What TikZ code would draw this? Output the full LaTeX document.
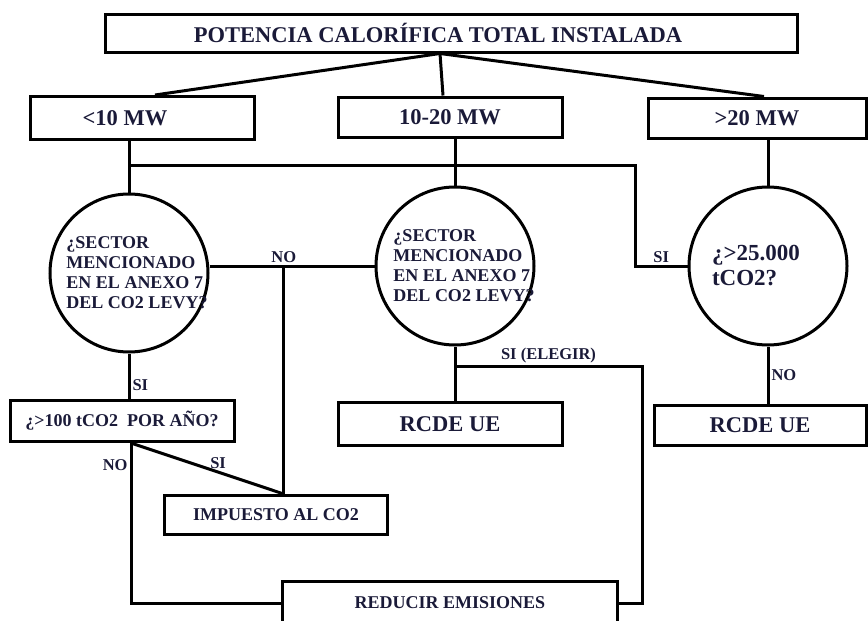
\documentclass[tikz,border=0pt]{standalone}
\usepackage{fontspec}
\setmainfont{Liberation Serif}
\usepackage{tikz}
\definecolor{tinta}{HTML}{1A1A38}
\newcommand{\tam}[2]{\fontsize{#1}{#2}\selectfont}

\begin{document}
\begin{tikzpicture}[x=1pt, y=-1pt, line width=3pt,
  caja/.style={draw, rectangle, inner sep=0pt, text=tinta, font=\bfseries\tam{18}{20}},
  grande/.style={caja, font=\bfseries\tam{22.5}{24}},
  rombo/.style={draw, circle, minimum size=158pt, inner sep=0pt},
  preg/.style={align=left, inner sep=0pt, text=tinta, font=\bfseries\tam{18}{20}},
  et/.style={text=tinta, inner sep=2pt, font=\bfseries\tam{16.5}{18}}]
  \useasboundingbox (0,0) rectangle (868,621);
  \node[grande, minimum width=692pt, minimum height=38pt] (total) at (451,33) {\hspace*{-26pt}POTENCIA CALORÍFICA TOTAL INSTALADA};
  \node[grande, minimum width=224pt, minimum height=43pt] (menos) at (142,118) {\hspace*{-34pt}<10 MW};
  \node[grande, minimum width=224pt, minimum height=40pt] (medio) at (450,117) {10-20 MW};
  \node[grande, minimum width=218pt, minimum height=40pt] (mas) at (757,118) {>20 MW};
  \node[rombo] (secA) at (129,273) {};
  \node[preg] (secAtxt) at ([xshift=8pt]secA.center) {¿SECTOR\\MENCIONADO\\EN EL ANEXO 7\\DEL CO2 LEVY?};
  \node[rombo] (secB) at (455,266) {};
  \node[preg] (secBtxt) at ([xshift=9pt]secB.center) {¿SECTOR\\MENCIONADO\\EN EL ANEXO 7\\DEL CO2 LEVY?};
  \node[rombo] (tons) at (768,266) {};
  \node[preg, font=\bfseries\tam{23}{25}] (tonstxt) at ([xshift=-12pt]tons.center) {¿>25.000\\tCO2?};
  \node[caja, minimum width=224pt, minimum height=41pt] (anual) at (122,421) {¿>100 tCO2\ \ POR AÑO?};
  \node[grande, minimum width=224pt, minimum height=43pt] (rcdeB) at (450,424) {RCDE UE};
  \node[grande, minimum width=212pt, minimum height=40pt] (rcdeC) at (760,425) {RCDE UE};
  \node[caja, minimum width=223pt, minimum height=39pt] (impuesto) at (276,515) {IMPUESTO AL CO2};
  \node[caja, minimum width=335pt, minimum height=44pt] (reducir) at (450,603) {REDUCIR EMISIONES};
  % arbol superior
  \coordinate (raiz) at ([xshift=-11pt]total.south);
  \draw (raiz) -- ([xshift=13pt]menos.north);
  \draw (raiz) -- ([xshift=-7pt]medio.north);
  \draw (raiz) -- ([xshift=7pt]mas.north);
  \draw (secA.north |- menos.south) -- coordinate[pos=.48] (cruce) (secA.north);
  \draw (cruce) -- ++(506,0) |- node[et, above, pos=.75] (lsiC) {SI} (tons.west);
  \draw (secB.north |- medio.south) -- (secB.north);
  \draw (tons.north |- mas.south) -- (tons.north);
  % ramas de los sectores
  \draw (secB.west -| secA.east) -- node[et, above, pos=.45] (lnoA) {NO} coordinate[pos=.45] (bajada) (secB.west);
  \draw (bajada) -- (bajada |- impuesto.north);
  \draw (secA.south) -- node[et, right, pos=.7] (lsiA) {SI} (secA.south |- anual.north);
  \coordinate (pie) at ([xshift=9pt]anual.south);
  \draw (pie) -- node[et, above, pos=.57] (lsiB) {SI} (bajada |- impuesto.north);
  \draw (pie) |- node[et, left, pos=.07] (lnoB) {NO} (reducir.west);
  \draw (secB.south) -- coordinate[pos=.37] (elegir) (secB.south |- rcdeB.north);
  \draw (elegir) -- node[et, above] (lelegir) {SI (ELEGIR)} ++(187,0) |- (reducir.east);
  \draw (tons.south) -- node[et, right] (lnoC) {NO} (tons.south |- rcdeC.north);
\end{tikzpicture}
\end{document}
